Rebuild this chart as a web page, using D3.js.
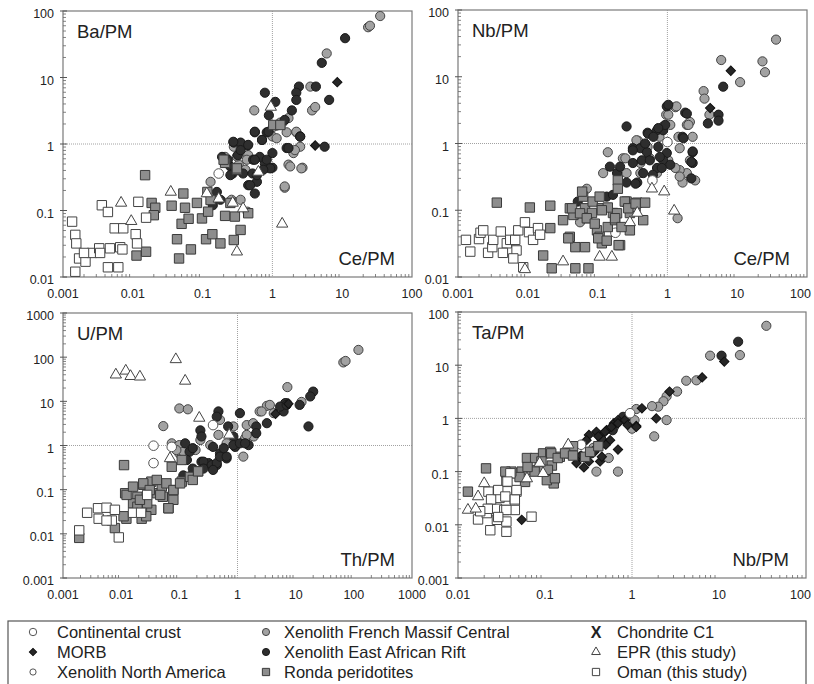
<!DOCTYPE html>
<html>
<head>
<meta charset="utf-8">
<script src="https://cdn.jsdelivr.net/npm/d3@7"></script>
<style>
body { margin: 0; background: #fff; }
svg { display: block; font-family: "Liberation Sans", Arial, sans-serif; }
</style>
</head>
<body>
<svg id="chart" width="814" height="684"></svg>
<script>
// ---- tick values ----
var ticksCe = [0.001, 0.01, 0.1, 1, 10, 100];
var ticksBa = [0.01, 0.1, 1, 10, 100];
var ticksTh = [0.001, 0.01, 0.1, 1, 10, 100, 1000];
var ticksU = [0.001, 0.01, 0.1, 1, 10, 100, 1000];
var ticksNbX = [0.01, 0.1, 1, 10, 100];
var ticksTa = [0.001, 0.01, 0.1, 1, 10, 100];

// ---- Ba/PM vs Ce/PM ----
var baOman = [[0.00135,0.068],[0.0015,0.043],[0.00155,0.032],[0.0017,0.019],[0.0015,0.012],[0.0021,0.017],[0.0026,0.023],[0.0033,0.027],[0.0036,0.12],[0.0044,0.095],[0.0047,0.027],[0.0044,0.014],[0.0055,0.054],[0.0062,0.014],[0.0066,0.028],[0.0073,0.054],[0.0071,0.026],[0.011,0.044],[0.0115,0.032],[0.012,0.135],[0.0155,0.078],[0.0034,0.023],[0.002,0.023]];
var baRonda = [[0.015,0.34],[0.0186,0.13],[0.021,0.11],[0.02,0.085],[0.0113,0.021],[0.0155,0.024],[0.036,0.118],[0.053,0.18],[0.056,0.11],[0.05,0.063],[0.063,0.075],[0.043,0.037],[0.046,0.019],[0.068,0.026],[0.083,0.13],[0.098,0.076],[0.117,0.19],[0.12,0.096],[0.112,0.037],[0.138,0.044],[0.18,0.032],[0.21,0.083],[0.29,0.081],[0.28,0.036],[0.21,0.52],[0.45,0.091],[0.31,0.41],[0.35,0.051],[0.13,0.144],[0.25,0.13],[1.03,1.93],[1.3,1.93],[0.2,0.58],[0.31,0.43]];
var baEpr = [[0.0068,0.13],[0.0095,0.069],[0.035,0.19],[0.115,0.18],[0.17,0.15],[0.38,0.107],[0.31,0.024],[1.38,0.063],[0.95,3.6],[0.63,0.38],[0.27,0.13]];
var baCrust = [[0.17,0.36]];
var baNA = [];
var baFrench = [[35,84],[23.5,57],[25,60],[6.0,23],[0.55,3.2],[3.5,7.3],[3.7,3.2],[4.1,3.6],[1.4,2.1],[1.15,1.9],[1.0,1.3],[1.6,1.5],[2.2,1.5],[2.0,0.73],[2.5,0.91],[2.7,0.44],[1.7,0.49],[1.5,0.22],[0.13,0.27],[0.35,0.145],[0.26,0.145],[0.44,0.096],[0.28,0.91],[0.33,0.49],[0.45,0.68],[0.83,0.44],[0.21,0.64],[1.02,1.8],[1.3,2.1],[0.35,1.02],[1.15,1.22],[1.7,2.45],[0.31,0.65],[0.43,0.58],[0.41,0.41],[2.2,1.53],[2.1,0.81],[2.6,0.43],[1.8,0.46],[1.5,0.23]];
var baEar = [[11,39],[5.1,16.6],[4.2,7.3],[2.4,7.3],[2.2,5.9],[2.2,4.6],[6.5,4.6],[1.9,3.2],[1.1,4.3],[0.78,5.9],[0.89,2.7],[1.5,2.3],[2.5,1.3],[1.6,0.87],[5.6,0.91],[0.56,1.5],[0.71,1.15],[0.83,1.5],[1.0,0.73],[1.0,0.44],[0.78,0.51],[0.66,0.64],[0.53,0.58],[0.44,0.95],[0.28,1.05],[0.35,1.05],[0.19,0.64],[0.25,0.46],[0.32,0.68],[0.38,0.36],[0.52,0.36],[0.45,0.24],[0.6,0.27],[0.56,0.18],[0.16,0.19],[0.18,0.145],[0.14,0.12],[0.27,0.36],[0.275,1.08],[0.45,0.97],[0.56,1.53],[0.71,1.15],[0.88,1.53],[0.56,0.58],[0.83,0.58],[0.93,0.43],[0.74,0.41],[0.25,0.34],[0.48,0.24],[0.6,0.34],[0.23,0.58],[0.35,0.81],[2.5,1.29],[1.7,0.87]];
var baMorb = [[8.5,8.5],[4.1,0.95]];

// ---- Nb/PM vs Ce/PM ----
var nbOman = [[0.0013,0.036],[0.0015,0.024],[0.002,0.037],[0.0021,0.046],[0.0027,0.023],[0.0031,0.028],[0.0032,0.036],[0.0041,0.048],[0.005,0.032],[0.0056,0.036],[0.0066,0.036],[0.0069,0.025],[0.0062,0.019],[0.0073,0.05],[0.0091,0.066],[0.0104,0.047],[0.0119,0.036],[0.014,0.054],[0.015,0.043],[0.0086,0.014],[0.0044,0.023],[0.0023,0.05]];
var nbRonda = [[0.0036,0.13],[0.0107,0.11],[0.021,0.117],[0.021,0.054],[0.0166,0.021],[0.022,0.0135],[0.032,0.071],[0.04,0.107],[0.045,0.085],[0.04,0.04],[0.048,0.028],[0.048,0.0135],[0.062,0.16],[0.066,0.107],[0.071,0.076],[0.066,0.028],[0.074,0.0135],[0.085,0.135],[0.098,0.05],[0.107,0.16],[0.115,0.107],[0.107,0.04],[0.115,0.032],[0.14,0.056],[0.166,0.091],[0.178,0.071],[0.195,0.28],[0.195,0.21],[0.21,0.03],[0.26,0.135],[0.29,0.091],[0.29,0.05],[0.35,0.112],[0.37,0.13],[0.45,0.071],[0.48,0.13],[0.06,0.19],[0.083,0.091],[0.14,0.11],[0.043,0.107],[0.056,0.09],[0.07,0.076],[0.091,0.063],[0.115,0.1],[0.19,0.09],[0.245,0.135],[0.275,0.107],[0.35,0.126],[0.102,0.038],[0.135,0.035],[0.2,0.03],[0.038,0.038],[0.178,0.076],[0.22,0.056]];
var nbEpr = [[0.0091,0.013],[0.032,0.017],[0.107,0.02],[0.16,0.02],[0.29,0.066],[0.37,0.091],[0.6,0.21],[0.9,0.19],[1.25,0.098]];
var nbCrust = [[1.0,1.05],[0.61,0.28],[0.18,0.046]];
var nbNA = [];
var nbFrench = [[36,36],[23,17],[25,11.7],[11,8.3],[5.9,17.8],[3.3,6.1],[3.4,4.7],[4.0,2.7],[2.3,1.26],[1.9,1.9],[1.65,0.26],[1.9,0.36],[2.5,0.28],[2.1,0.56],[1.4,0.076],[1.5,0.40],[1.3,3.5],[0.96,2.7],[1.1,1.9],[0.87,1.8],[0.38,1.1],[0.14,0.74],[0.12,0.36],[0.23,0.6],[0.52,0.89],[0.41,0.51],[0.56,0.6],[0.26,0.36],[0.71,0.36],[0.056,0.066],[0.07,0.21],[0.77,1.26],[1.35,3.6],[1.03,2.7],[2.1,2.1],[2.0,1.9],[0.36,1.12],[1.03,0.56],[1.5,0.85],[1.44,1.26],[1.5,0.32],[1.3,0.43],[0.25,0.6],[0.41,0.36]];
var nbEar = [[6.3,7.1],[5.4,2.7],[5.4,2.2],[3.8,2.0],[0.26,1.8],[0.98,3.6],[1.8,2.9],[1.65,1.26],[2.3,0.74],[2.3,0.51],[2.2,0.30],[0.52,1.45],[0.71,1.58],[0.87,1.58],[0.32,0.85],[0.41,0.85],[0.51,0.74],[0.74,0.89],[0.98,0.72],[0.87,0.56],[1.1,0.48],[0.71,0.43],[0.62,0.34],[0.45,0.36],[0.37,0.26],[0.15,0.45],[0.19,0.36],[0.32,0.51],[0.135,0.16],[0.166,0.17],[0.052,0.135],[0.26,0.26],[1.03,3.8],[1.9,2.8],[0.93,1.9],[0.74,1.7],[0.53,1.4],[0.63,1.26],[0.32,0.79],[0.48,1.0],[0.43,0.56],[0.56,0.56],[0.78,0.63],[0.83,0.43],[1.7,1.2],[2.3,0.76],[2.2,0.53],[0.21,0.45],[0.35,0.25]];
var nbMorb = [[4.1,3.4],[8.1,12.3]];

// ---- U/PM vs Th/PM ----
var uOman = [[0.0019,0.012],[0.0026,0.030],[0.004,0.038],[0.0041,0.022],[0.0056,0.039],[0.0069,0.020],[0.0078,0.035],[0.0091,0.0083],[0.028,0.076],[0.016,0.030],[0.0056,0.020],[0.022,0.03]];
var uRonda = [[0.0112,0.36],[0.0019,0.0081],[0.0078,0.0135],[0.0123,0.022],[0.0117,0.083],[0.019,0.069],[0.0225,0.022],[0.024,0.129],[0.033,0.152],[0.033,0.035],[0.041,0.083],[0.05,0.118],[0.065,0.038],[0.079,0.098],[0.11,0.152],[0.11,0.47],[0.152,0.195],[0.21,0.26],[0.079,0.059],[0.052,0.069],[0.016,0.049],[0.028,0.049],[0.074,0.33],[0.0124,0.076],[0.016,0.117],[0.024,0.139],[0.031,0.098],[0.041,0.166],[0.047,0.076],[0.06,0.139],[0.079,0.098],[0.103,0.139],[0.17,0.166],[0.21,0.26],[0.019,0.041],[0.065,0.038],[0.027,0.025],[0.011,0.025],[0.021,0.059]];
var uEpr = [[0.0081,40],[0.012,49],[0.0145,37],[0.021,36],[0.087,89],[0.126,29],[0.22,4.2],[0.069,0.51],[0.72,1.74]];
var uCrust = [[0.036,0.99],[0.036,0.40],[0.38,2.9],[0.074,0.93]];
var uNA = [];
var uFrench = [[120,146],[66,76],[72,82],[7.2,21],[0.10,6.9],[0.14,6.6],[0.053,2.75],[0.074,1.12],[0.085,0.93],[0.10,0.66],[0.19,0.79],[0.34,1.02],[0.47,1.74],[0.50,3.8],[2.4,5.9],[3.2,7.9],[3.6,8.3],[1.26,0.56],[0.85,2.7],[1.44,2.9],[1.9,1.6],[1.35,1.45],[0.65,1.12],[0.23,1.33],[7.1,9.1],[12.6,9.7],[1.44,1.74],[0.10,1.02],[0.117,0.72],[0.089,0.79],[1.86,3.2],[2.6,5.9],[4.2,5.4]];
var uEar = [[16.6,2.7],[20,16.6],[17.8,12.9],[11.7,8.3],[6.2,5.9],[6.6,9.1],[3.2,3.2],[2.1,2.7],[1.1,5.4],[1.55,1.02],[0.91,0.93],[0.47,5.9],[0.44,4.5],[0.23,2.2],[0.24,1.6],[0.38,0.93],[0.5,0.66],[0.65,0.51],[0.44,0.36],[0.32,0.4],[0.24,0.43],[0.15,0.72],[0.126,1.12],[0.135,0.47],[0.17,0.23],[0.117,0.21],[0.85,1.6],[0.69,2.7],[0.17,0.30],[0.26,0.43],[0.36,0.36],[0.44,0.40],[0.50,0.56],[0.65,0.56],[0.58,0.87],[0.85,1.02],[0.38,0.28],[0.26,0.30],[1.1,1.12],[1.35,1.12],[2.1,1.9],[5.4,7.6],[7.0,8.3],[0.17,0.87]];
var uMorb = [[7.5,8.8],[4.5,5.2]];

// ---- Ta/PM vs Nb/PM ----
var taOman = [[0.017,0.0126],[0.0235,0.0079],[0.0224,0.042],[0.0214,0.0166],[0.028,0.020],[0.028,0.0124],[0.034,0.019],[0.036,0.0074],[0.036,0.0115],[0.036,0.064],[0.045,0.027],[0.045,0.019],[0.047,0.042],[0.070,0.0142],[0.030,0.032],[0.040,0.093],[0.024,0.030],[0.029,0.045],[0.035,0.034],[0.036,0.019],[0.045,0.030],[0.047,0.045],[0.029,0.014],[0.037,0.065],[0.022,0.020],[0.018,0.018]];
var taRonda = [[0.021,0.115],[0.013,0.042],[0.036,0.093],[0.046,0.093],[0.062,0.18],[0.077,0.18],[0.071,0.107],[0.087,0.12],[0.095,0.22],[0.115,0.235],[0.12,0.13],[0.126,0.06],[0.105,0.069],[0.148,0.19],[0.195,0.22],[0.21,0.30],[0.29,0.19],[0.33,0.235],[0.41,0.30],[0.054,0.10],[0.059,0.064],[0.118,0.22],[0.14,0.18],[0.17,0.22],[0.091,0.155],[0.108,0.108],[0.13,0.075],[0.076,0.10],[0.063,0.122],[0.051,0.079],[0.041,0.10],[0.035,0.10],[0.21,0.20]];
var taEpr = [[0.013,0.019],[0.017,0.034],[0.020,0.060],[0.016,0.020],[0.062,0.074],[0.087,0.145],[0.095,0.093],[0.185,0.32]];
var taCrust = [[0.26,0.32],[0.95,1.25]];
var taNA = [];
var taFrench = [[35,55],[17.4,15.5],[7.9,15.1],[4.2,5.1],[5.5,5.2],[3.3,3.2],[2.5,2.6],[2.3,2.1],[2.0,1.66],[1.7,1.7],[1.12,1.5],[2.5,0.93],[1.8,0.46],[1.0,0.64],[0.69,0.10],[0.39,0.10],[0.54,0.18],[0.49,0.34],[0.87,0.93],[0.62,0.69],[0.36,0.28],[1.07,0.93]];
var taEar = [[16.6,27.6],[10.7,15.1],[0.43,0.47],[0.79,1.07],[0.34,0.22],[0.60,0.60],[0.45,0.39]];
var taMorb = [[11.5,11.7],[6.4,5.9],[2.7,3.2],[1.9,1.0],[1.12,0.72],[0.69,0.26],[1.3,1.55],[0.32,0.49],[0.30,0.39],[0.39,0.56],[0.51,0.60],[0.62,0.81],[0.69,0.93],[0.43,0.30],[0.28,0.12],[0.25,0.19],[0.054,0.0124],[0.43,0.155],[0.56,0.39],[0.41,0.46],[0.49,0.56],[0.58,0.69],[0.69,0.81],[0.83,0.93],[0.39,0.28],[0.45,0.19],[0.50,0.32],[0.26,0.20],[0.32,0.155],[0.37,0.235],[0.23,0.145],[1.12,0.69],[0.89,0.75]];

// legend entries (3 columns)
var legendLabels = [
  ["Continental crust", "MORB", "Xenolith North America"],
  ["Xenolith French Massif Central", "Xenolith East African Rift", "Ronda peridotites"],
  ["Chondrite C1", "EPR (this study)", "Oman (this study)"]
];

var svg = d3.select("#chart");

//marker styles
var styles = {
  french: {type: "circle", r: 4.6, fill: "#a2a2a2", stroke: "#444"},
  ear:    {type: "circle", r: 4.6, fill: "#2e2e2e", stroke: "#1a1a1a"},
  crust:  {type: "circle", r: 4.8, fill: "#fff", stroke: "#555"},
  na:     {type: "circle", r: 3.6, fill: "#fff", stroke: "#555"},
  morb:   {type: d3.symbolSquare, size: 44, rot: 45, fill: "#262626", stroke: "#111"},
  ronda:  {type: d3.symbolSquare, size: 88, rot: 0, fill: "#8d8d8d", stroke: "#3a3a3a"},
  oman:   {type: d3.symbolSquare, size: 88, rot: 0, fill: "#fff", stroke: "#444"},
  epr:    {type: d3.symbolTriangle, size: 55, rot: 0, fill: "#fff", stroke: "#444"}
};

var panels = [
  {x0: 63, y0: 11, w: 349, h: 266, xd: [0.001, 100], yd: [0.01, 100], xt: ticksCe, yt: ticksBa, xlab: "Ce/PM", ylab: "Ba/PM",
   series: {french: baFrench, ear: baEar, morb: baMorb, crust: baCrust, na: baNA, ronda: baRonda, oman: baOman, epr: baEpr}},
  {x0: 458, y0: 10, w: 349, h: 267, xd: [0.001, 100], yd: [0.01, 100], xt: ticksCe, yt: ticksBa, xlab: "Ce/PM", ylab: "Nb/PM",
   series: {french: nbFrench, ear: nbEar, morb: nbMorb, crust: nbCrust, na: nbNA, ronda: nbRonda, oman: nbOman, epr: nbEpr}},
  {x0: 63, y0: 313, w: 349, h: 265, xd: [0.001, 1000], yd: [0.001, 1000], xt: ticksTh, yt: ticksU, xlab: "Th/PM", ylab: "U/PM",
   series: {french: uFrench, ear: uEar, morb: uMorb, crust: uCrust, na: uNA, ronda: uRonda, oman: uOman, epr: uEpr}},
  {x0: 458, y0: 312, w: 348, h: 266, xd: [0.01, 100], yd: [0.001, 100], xt: ticksNbX, yt: ticksTa, xlab: "Nb/PM", ylab: "Ta/PM",
   series: {french: taFrench, ear: taEar, morb: taMorb, crust: taCrust, na: taNA, ronda: taRonda, oman: taOman, epr: taEpr}}
];

function drawMarker(g, key, x, y, scale) {
  var s = styles[key];
  scale = scale || 1;
  if (s.type === "circle") {
    g.append("circle").attr("cx", x).attr("cy", y).attr("r", s.r * Math.sqrt(scale))
      .attr("fill", s.fill).attr("stroke", s.stroke).attr("stroke-width", 1);
  } else {
    g.append("path").attr("d", d3.symbol().type(s.type).size(s.size * scale)())
      .attr("transform", "translate(" + x + "," + y + ") rotate(" + s.rot + ")")
      .attr("fill", s.fill).attr("stroke", s.stroke).attr("stroke-width", 1);
  }
}

function minorTicks(domain) {
  var out = [];
  for (var e = Math.round(Math.log10(domain[0])); e < Math.round(Math.log10(domain[1])); e++) {
    for (var k = 2; k < 10; k++) out.push(k * Math.pow(10, e));
  }
  return out;
}

panels.forEach(function(p) {
  var xScale = d3.scaleLog().domain(p.xd).range([p.x0, p.x0 + p.w]);
  var yScale = d3.scaleLog().domain(p.yd).range([p.y0 + p.h, p.y0]);
  var g = svg.append("g");

  //frame
  g.append("rect").attr("x", p.x0).attr("y", p.y0).attr("width", p.w).attr("height", p.h)
    .attr("fill", "none").attr("stroke", "#7a7a7a").attr("stroke-width", 1.2);

  //dotted reference lines at 1
  g.append("line").attr("x1", xScale(1)).attr("x2", xScale(1)).attr("y1", p.y0).attr("y2", p.y0 + p.h)
    .attr("stroke", "#8a8a8a").attr("stroke-width", 0.8).attr("stroke-dasharray", "1,1");
  g.append("line").attr("x1", p.x0).attr("x2", p.x0 + p.w).attr("y1", yScale(1)).attr("y2", yScale(1))
    .attr("stroke", "#8a8a8a").attr("stroke-width", 0.8).attr("stroke-dasharray", "1,1");

  //ticks
  var xb = p.y0 + p.h;
  g.selectAll(null).data(minorTicks(p.xd)).enter().append("line")
    .attr("x1", function(d) { return xScale(d); }).attr("x2", function(d) { return xScale(d); })
    .attr("y1", xb).attr("y2", xb - 3).attr("stroke", "#666").attr("stroke-width", 0.8);
  g.selectAll(null).data(minorTicks(p.yd)).enter().append("line")
    .attr("y1", function(d) { return yScale(d); }).attr("y2", function(d) { return yScale(d); })
    .attr("x1", p.x0).attr("x2", p.x0 + 3).attr("stroke", "#666").attr("stroke-width", 0.8);
  g.selectAll(null).data(p.yt).enter().append("line")
    .attr("y1", function(d) { return yScale(d); }).attr("y2", function(d) { return yScale(d); })
    .attr("x1", p.x0 - 3).attr("x2", p.x0 + 4).attr("stroke", "#555").attr("stroke-width", 1);

  //tick labels (kept inside the page at the right edge)
  g.selectAll(null).data(p.xt).enter().append("text")
    .attr("x", function(d) { return xScale(d); }).attr("y", xb + 21)
    .attr("text-anchor", "middle").attr("font-size", 12.5).attr("fill", "#222")
    .text(function(d) { return String(d); })
    .each(function() {
      var bb = this.getBBox();
      if (bb.x + bb.width > 811) d3.select(this).attr("x", +d3.select(this).attr("x") - (bb.x + bb.width - 811));
    });
  g.selectAll(null).data(p.yt).enter().append("text")
    .attr("x", p.x0 - 9).attr("y", function(d) { return yScale(d) + 7; })
    .attr("text-anchor", "end").attr("font-size", 12.5).attr("fill", "#222")
    .text(function(d) { return String(d); });

  //axis names
  g.append("text").attr("x", p.x0 + 14).attr("y", p.y0 + 27).attr("font-size", 18.5).attr("fill", "#222").text(p.ylab);
  g.append("text").attr("x", p.x0 + p.w - 17).attr("y", p.y0 + p.h - 12).attr("text-anchor", "end")
    .attr("font-size", 18.5).attr("fill", "#222").text(p.xlab);

  //points
  var pts = g.append("g");
  ["french", "ear", "morb", "crust", "na", "ronda", "oman", "epr"].forEach(function(key) {
    p.series[key].forEach(function(d) {
      drawMarker(pts, key, xScale(d[0]), yScale(d[1]));
    });
  });
});

//Legend
var lg = svg.append("g");
lg.append("rect").attr("x", 8).attr("y", 621).attr("width", 798).attr("height", 70)
  .attr("fill", "none").attr("stroke", "#555").attr("stroke-width", 1.2);

var legendKeys = [["crust", "morb", "na"], ["french", "ear", "ronda"], ["chondrite", "epr", "oman"]];
var colMarkX = [33, 266, 596];
var colTextX = [57, 284, 617];
var rowY = [632, 652, 672];

legendKeys.forEach(function(col, ci) {
  col.forEach(function(key, ri) {
    var cy = rowY[ri];
    if (key === "chondrite") {
      lg.append("text").attr("x", colMarkX[ci]).attr("y", cy + 6).attr("text-anchor", "middle")
        .attr("font-size", 16).attr("font-weight", "bold").attr("fill", "#222").text("X");
    } else {
      drawMarker(lg, key, colMarkX[ci], cy, key === "na" ? 0.75 : 0.6);
    }
    lg.append("text").attr("x", colTextX[ci]).attr("y", cy + 6).attr("font-size", 16.5).attr("fill", "#222")
      .text(legendLabels[ci][ri]);
  });
});
</script>
</body>
</html>
